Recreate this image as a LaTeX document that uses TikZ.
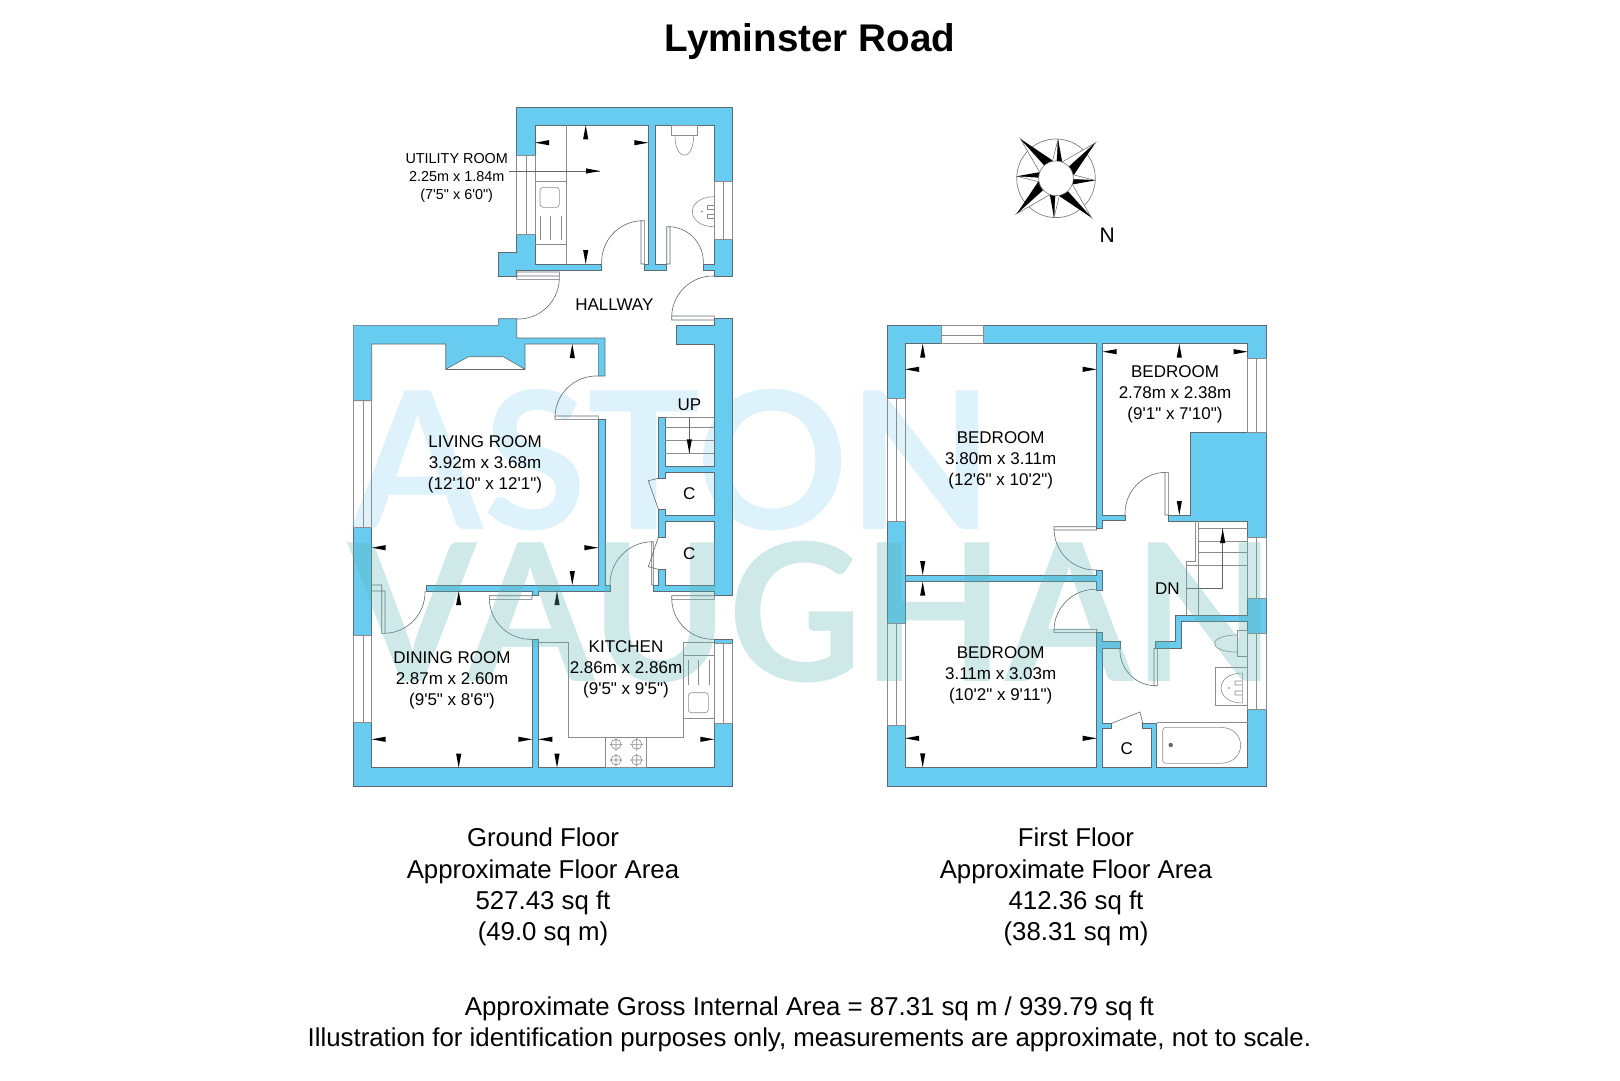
\documentclass[tikz,border=0pt]{standalone}
\usepackage{fontspec}
\setmainfont{Liberation Sans}
\newfontfamily\planfont{Liberation Sans}
\newfontfamily\markfont{Lato}
\definecolor{wallblue}{RGB}{104,204,241}
\definecolor{planline}{RGB}{95,105,112}
\definecolor{markblue}{RGB}{221,242,251}
\definecolor{markteal}{RGB}{95,178,178}
\newcommand{\mtick}[3]{\fill[black,shift={(#1,#2)},rotate=#3] (0,0)--(14,2.6)--(14,-2.6)--cycle;}
\begin{document}
\begin{tikzpicture}[x=1pt,y=-1pt]
  \tikzstyle{every node}=[inner sep=0pt,align=center]
  \tikzstyle{wall}=[fill=wallblue,draw=planline,line width=.6pt,line join=miter]
  \tikzstyle{line}=[draw=planline,line width=.6pt]
  \tikzstyle{pale}=[draw=black!45,line width=.6pt]
  \tikzstyle{room}=[font=\planfont\fontsize{17}{21}\selectfont]
  \tikzstyle{smallroom}=[font=\planfont\fontsize{14.4}{18}\selectfont]
  \tikzstyle{foot}=[font=\fontsize{25.8}{31.2}\selectfont]
  \useasboundingbox (0,0) rectangle (1620,1080);
  % watermark, upper word
  \node (markupper) at (673,460) {\color{markblue}\resizebox{640pt}{140pt}{\markfont\bfseries ASTON}};
  % ground floor walls
  \draw[wall] (516.7,155)--(516.7,107.3)--(732.7,107.3)--(732.7,181)--(714.3,181)--(714.3,125.3)--(655,125.3)--(655,264)--(666,264)--(666,270)--(644,270)--(644,264)--(648.3,264)--(648.3,125.3)--(535,125.3)--(535,155)--cycle;
  \draw[wall] (714.3,239.3)--(732.7,239.3)--(732.7,276)--(714.3,276)--(714.3,270)--(703.3,270)--(703.3,264)--(714.3,264)--cycle;
  \draw[wall] (498.3,252.3)--(516.7,252.3)--(516.7,234.3)--(535,234.3)--(535,264)--(601.7,264)--(601.7,270)--(516.7,270)--(516.7,276)--(498.3,276)--cycle;
  \draw[wall] (353.3,325.3)--(498.3,325.3)--(498.3,318.7)--(516.7,318.7)--(516.7,338)--(605,338)--(605,376)--(598.3,376)--(598.3,344)--(525,344)--(525,369.3)--(503.3,356.7)--(468.3,356.7)--(445.7,369.3)--(445.7,344)--(371.7,344)--(371.7,400.7)--(353.3,400.7)--cycle;
  \draw[line] (445.7,369.3)--(525,369.3);
  \draw[wall] (714.3,318.7)--(732.7,318.7)--(732.7,595.7)--(714.3,595.7)--(714.3,591.7)--(653.3,591.7)--(653.3,585)--(658.3,585)--(658.3,569.3)--(665,569.3)--(665,585)--(714.3,585)--(714.3,521.7)--(665,521.7)--(665,537.3)--(658.3,537.3)--(658.3,509)--(665,509)--(665,515)--(714.3,515)--(714.3,472.3)--(665,472.3)--(665,478.3)--(658.3,478.3)--(658.3,417)--(665,417)--(665,466.7)--(714.3,466.7)--(714.3,344)--(676.7,344)--(676.7,325.3)--(714.3,325.3)--cycle;
  \draw[wall] (426,585)--(598.3,585)--(598.3,419.3)--(605,419.3)--(605,585)--(610,585)--(610,591)--(538.3,591)--(538.3,595)--(532.3,595)--(532.3,591)--(426,591)--cycle;
  \draw[wall] (353.3,527.7) rectangle (371.7,635.7);
  \draw[wall] (353.3,722.7)--(371.7,722.7)--(371.7,767.7)--(532.3,767.7)--(532.3,639.3)--(538.3,639.3)--(538.3,767.7)--(714.3,767.7)--(714.3,723.3)--(732.7,723.3)--(732.7,786)--(353.3,786)--cycle;
  \draw[wall] (714.3,639.3) rectangle (732.7,643.3);
  % ground floor windows
  \draw[pale] (516.7,155) rectangle (535,234.3) (526,155)--(526,234.3);
  \draw[pale] (714.3,181) rectangle (732.7,239.3) (723.5,181)--(723.5,239.3);
  \draw[pale] (353.3,400.7) rectangle (371.7,527.7) (363,400.7)--(363,527.7);
  \draw[pale] (353.3,635.7) rectangle (371.7,722.7) (363,635.7)--(363,722.7);
  \draw[pale] (714.3,643.3) rectangle (732.7,723.3) (723.5,643.3)--(723.5,723.3);
  % ground floor doors
  \draw[line] (641,220.7) rectangle (644.3,264) (601.7,264) to[bend left=45] (641,220.7);
  \draw[line] (666.7,226.7) rectangle (670,264) (670,226.7) to[bend left=45] (703.3,264);
  \draw[line] (516.7,272) rectangle (559.3,279.3) (516.7,276)--(559.3,276) (559.3,279.3) to[bend left=45] (516.7,319);
  \draw[line] (671.7,316) rectangle (714.3,320) (671.7,316) to[bend left=45] (714.3,276);
  \draw[line] (555,416) rectangle (598.3,419.3) (555,416) to[bend left=45] (598.3,376);
  \draw[line] (651.7,541.7) rectangle (653.3,585) (610,585) to[bend left=45] (651.7,541.7);
  \draw[line] (371.7,585)--(381.7,585)--(381.7,591)--(371.7,591) (381.7,591) rectangle (385,633.3) (425,591) to[bend left=45] (385,633.3);
  \draw[line] (489.3,595.7) rectangle (532,599.3) (532,639.3) to[bend left=45] (489.3,599.3);
  \draw[line] (671.7,595.7) rectangle (714.3,599.3) (714.3,639.3) to[bend left=45] (671.7,599.3);
  \draw[line] (658.3,478.3)--(648.3,480.7)--(658.3,509);
  \draw[line] (658.3,537.3)--(648.3,566.7)--(658.3,569.3);
  % ground floor fittings
  \draw[pale] (566,125.3)--(566,264) (535,181)--(566,181) (535,244)--(566,244);
  \draw[pale,rounded corners=3] (540,187.3) rectangle (559.3,207.3);
  \draw[pale] (540,216)--(540,240) (550.7,216)--(550.7,240) (561.7,216)--(561.7,240);
  \draw[line] (509,171)--(600,171);
  \draw[pale] (671.7,125.3) rectangle (697.3,135);
  \draw[pale] (675,135) .. controls (675,162) and (693.7,162) .. (693.7,135);
  \draw[pale] (714.3,196.7) .. controls (685,196.7) and (685,226.7) .. (714.3,226.7);
  \draw[pale] (707,205) rectangle (714.3,209) (707,214) rectangle (714.3,218);
  \fill[planline] (702,211.5) circle (.8);
  \draw[pale] (665,417.3)--(714.3,417.3) (665,427.3)--(714.3,427.3) (665,440)--(714.3,440) (665,453.3)--(714.3,453.3);
  \draw[line] (689.3,417.3)--(689.3,453.3);
  \draw[pale] (538.3,642.7)--(568.3,642.7)--(568.3,737.3)--(683.3,737.3)--(683.3,642.7)--(714.3,642.7);
  \draw[pale] (683.3,655)--(714.3,655) (683.3,718.3)--(714.3,718.3);
  \draw[pale] (688.3,660)--(688.3,685) (698.3,660)--(698.3,685) (709,660)--(709,685);
  \draw[pale,rounded corners=3] (688.3,692.7) rectangle (708.3,712.7);
  \draw[pale] (605.7,737.3) rectangle (646.7,767.7);
  \foreach \hx/\hy in {616/744.3,636.7/744.3,616/760,636.7/760}{
    \draw[pale] (\hx,\hy) circle (5) (\hx-6.5,\hy)--(\hx+6.5,\hy) (\hx,\hy-6.5)--(\hx,\hy+6.5);
  }
  % first floor walls
  \draw[wall] (887.3,398.3)--(887.3,325.7)--(941.7,325.7)--(941.7,343.7)--(905,343.7)--(905,398.3)--cycle;
  \draw[wall] (983.3,325.7)--(1266,325.7)--(1266,358.3)--(1247.7,358.3)--(1247.7,343.7)--(1102.7,343.7)--(1102.7,515)--(1125,515)--(1125,520.7)--(1102.7,520.7)--(1102.7,528.3)--(1096.7,528.3)--(1096.7,343.7)--(983.3,343.7)--cycle;
  \draw[wall] (1190.7,432.3)--(1266,432.3)--(1266,537.7)--(1247.7,537.7)--(1247.7,521.3)--(1168.3,521.3)--(1168.3,515)--(1190.7,515)--cycle;
  \draw[wall] (905,575)--(1096.7,575)--(1096.7,570)--(1102.7,570)--(1102.7,590)--(1096.7,590)--(1096.7,581.7)--(905,581.7)--cycle;
  \draw[wall] (887.3,521) rectangle (905,623.3);
  \draw[wall] (887.3,725.7)--(905,725.7)--(905,767.3)--(1096.7,767.3)--(1096.7,632.3)--(1102.7,632.3)--(1102.7,641.7)--(1120,641.7)--(1120,648.3)--(1102.7,648.3)--(1102.7,723.3)--(1111.7,723.3)--(1111.7,728.3)--(1102.7,728.3)--(1102.7,767.3)--(1151.7,767.3)--(1151.7,728.3)--(1142.7,728.3)--(1142.7,723.3)--(1156.7,723.3)--(1156.7,767.3)--(1247.7,767.3)--(1247.7,709.3)--(1266,709.3)--(1266,786.7)--(887.3,786.7)--cycle;
  \draw[wall] (1266,598.3)--(1247.7,598.3)--(1247.7,615)--(1175.7,615)--(1175.7,641.7)--(1155,641.7)--(1155,648.3)--(1181.7,648.3)--(1181.7,621)--(1247.7,621)--(1247.7,633.3)--(1266,633.3)--cycle;
  % first floor windows
  \draw[pale] (941.7,325.7) rectangle (983.3,343.7) (941.7,335)--(983.3,335);
  \draw[pale] (887.3,398.3) rectangle (905,521) (896,398.3)--(896,521);
  \draw[pale] (887.3,623.3) rectangle (905,725.7) (896,623.3)--(896,725.7);
  \draw[pale] (1247.7,358.3) rectangle (1266,432.3) (1256.7,358.3)--(1256.7,432.3);
  \draw[pale] (1247.7,537.7) rectangle (1266,598.3) (1256.7,537.7)--(1256.7,598.3);
  \draw[pale] (1247.7,633.3) rectangle (1266,709.3) (1256.7,633.3)--(1256.7,709.3);
  % first floor doors
  \draw[line] (1165,472.3) rectangle (1168.3,515) (1125,515) to[bend left=45] (1165,472.3);
  \draw[line] (1054,526.7) rectangle (1096.7,530) (1096.7,570) to[bend left=45] (1054,530);
  \draw[line] (1054,629.3) rectangle (1096.7,632.3) (1054,629.3) to[bend left=45] (1096.7,589.3);
  \draw[line] (1154,648.3) rectangle (1157.3,685.7) (1154,685.7) to[bend left=45] (1120,648.3);
  \draw[line] (1111.7,723.3)--(1140,712)--(1142.7,723.3);
  % first floor stairs
  \draw[pale] (1195,521.3)--(1195,561.7)--(1186,561.7)--(1186,615) (1198.3,521.3)--(1198.3,615);
  \draw[pale] (1198.3,528.3)--(1247.7,528.3) (1198.3,541.7)--(1247.7,541.7) (1198.3,552.3)--(1247.7,552.3) (1186,565)--(1247.7,565);
  \draw[line] (1186,588.3)--(1222.7,588.3)--(1222.7,528.3);
  % first floor fittings
  \draw[pale] (1237.3,630.7) rectangle (1247.7,656.7);
  \draw[pale] (1237.3,635) .. controls (1207,635) and (1207,652) .. (1237.3,652);
  \draw[pale] (1215.7,667.3) rectangle (1247.7,705.7);
  \draw[pale] (1242.3,673) .. controls (1214,673) and (1214,703) .. (1242.3,703) -- cycle (1235,681) rectangle (1242.3,685) (1235,691) rectangle (1242.3,695);
  \fill[planline] (1229,688) circle (.8);
  \draw[pale] (1156.7,722.7)--(1247.7,722.7);
  \draw[pale,rounded corners=3] (1205,727.3)--(1162.7,727.3)--(1162.7,763.3)--(1205,763.3);
  \draw[pale] (1205,727.3)--(1220,727.3) .. controls (1247.5,727.3) and (1247.5,763.3) .. (1220,763.3)--(1205,763.3);
  \fill[planline] (1170.7,745) circle (2.2);
  % compass
  \begin{scope}[shift={(1056,178.3)},yscale=-1]
    \draw[black!50,line width=.7pt] (0,0) circle (39.3);
    \foreach \a in {42,132,222,312}{
      \draw[black!60,fill=white,line width=.5pt] (\a:53)--(\a+28:17.3)--(\a:17.3)--cycle;
      \fill[black] (\a:53)--(\a-34:17.3)--(\a:17.3)--cycle;
    }
    \foreach \a in {87,177,267,357}{
      \draw[black!60,fill=white,line width=.5pt] (\a:39.3)--(\a+15:17.3)--(\a:17.3)--cycle;
      \fill[black] (\a:39.3)--(\a-18:17.3)--(\a:17.3)--cycle;
    }
    \fill[white] (0,0) circle (17.3);
    \draw[black!50,line width=.6pt] (0,0) circle (17.3);
  \end{scope}
  % measure marks, ground floor
  \mtick{585.7}{125.3}{-90} \mtick{585.7}{264}{90} \mtick{535}{142.7}{0} \mtick{648.3}{142.7}{180} \mtick{600}{171}{180}
  \mtick{572.3}{344}{-90} \mtick{371.7}{547.7}{0} \mtick{598.3}{547.7}{180} \mtick{572.3}{585}{90}
  \mtick{458.7}{591}{-90} \mtick{371.7}{739.3}{0} \mtick{532.3}{739.3}{180} \mtick{458.7}{767.7}{90}
  \mtick{557}{591}{-90} \mtick{538.3}{739.3}{0} \mtick{714.3}{739.3}{180} \mtick{557}{767.7}{90}
  \mtick{689.3}{453.3}{90}
  % measure marks, first floor
  \mtick{922.7}{343.7}{-90} \mtick{905}{369.3}{0} \mtick{1096.7}{369.3}{180} \mtick{922.7}{575}{90}
  \mtick{1102.7}{351.7}{0} \mtick{1179.3}{343.7}{-90} \mtick{1247.7}{351.7}{180} \mtick{1179.3}{515}{90}
  \mtick{922.7}{581.7}{-90} \mtick{905}{738.3}{0} \mtick{1096.7}{738.3}{180} \mtick{922.7}{767.3}{90}
  \mtick{1222.7}{529}{-90}
  % watermark, lower word
  \node[text opacity=.3] (marklower) at (812,612) {\color{markteal}\resizebox{926pt}{140pt}{\markfont\bfseries VAUGHAN}};
  % texts
  \node[font=\bfseries\fontsize{38.6}{46}\selectfont] (title) at (810,42) {Lyminster Road};
  \node[smallroom] (utility) at (456.7,177.5) {UTILITY ROOM\\2.25m x 1.84m\\(7'5" x 6'0")};
  \node[room] (hallway) at (614.3,305) {HALLWAY};
  \node[room] (living) at (485,464.7) {LIVING ROOM\\3.92m x 3.68m\\(12'10" x 12'1")};
  \node[room] (dining) at (452,680.3) {DINING ROOM\\2.87m x 2.60m\\(9'5" x 8'6")};
  \node[room] (kitchen) at (626,669.7) {KITCHEN\\2.86m x 2.86m\\(9'5" x 9'5")};
  \node[room] (up) at (689.3,404.3) {UP};
  \node[room] (cupa) at (689.3,493.3) {C};
  \node[room] (cupb) at (689.3,553.3) {C};
  \node[room] (bedone) at (1000.7,460.3) {BEDROOM\\3.80m x 3.11m\\(12'6" x 10'2")};
  \node[room] (bedtwo) at (1175,394.7) {BEDROOM\\2.78m x 2.38m\\(9'1" x 7'10")};
  \node[room] (bedthree) at (1000.7,675) {BEDROOM\\3.11m x 3.03m\\(10'2" x 9'11")};
  \node[room] (dn) at (1167.3,588.3) {DN};
  \node[room] (cupc) at (1126.7,748.3) {C};
  \node[font=\fontsize{21}{25}\selectfont] (north) at (1107.3,235.7) {N};
  \node[foot] (ground) at (543,887) {Ground Floor\\Approximate Floor Area\\527.43 sq ft\\(49.0 sq m)};
  \node[foot] (first) at (1076,887) {First Floor\\Approximate Floor Area\\412.36 sq ft\\(38.31 sq m)};
  \node[foot] (gross) at (809.4,1024) {Approximate Gross Internal Area = 87.31 sq m / 939.79 sq ft\\Illustration for identification purposes only, measurements are approximate, not to scale.};
\end{tikzpicture}
\end{document}
